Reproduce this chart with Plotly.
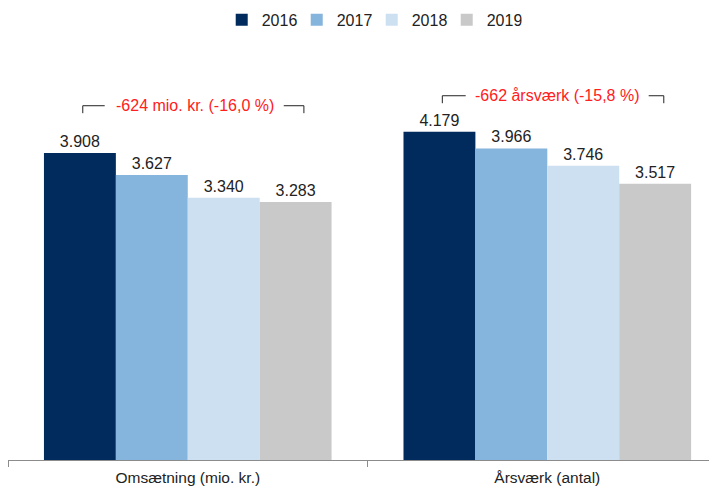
import plotly.graph_objects as go

categories = ["Omsætning (mio. kr.)", "Årsværk (antal)"]
years = ["2016", "2017", "2018", "2019"]
values_2016 = [3908, 4179]
values_2017 = [3627, 3966]
values_2018 = [3340, 3746]
values_2019 = [3283, 3517]
changes = ["-624 mio. kr. (-16,0 %)", "-662 årsværk (-15,8 %)"]

colors = ["#002B5C", "#85B4DC", "#CDE0F1", "#C9C9C9"]
font = "Arial, Liberation Sans, sans-serif"

fig = go.Figure()
for year, vals, col in zip(years, [values_2016, values_2017, values_2018, values_2019], colors):
    fig.add_trace(go.Bar(
        name=year, x=categories, y=vals, marker_color=col, marker_line_width=0,
        texttemplate="%{y:,.0f}", textposition="outside", cliponaxis=False,
        textfont=dict(size=16, color="#222222", family=font),
    ))


def bracket(i, x0, x1, gap0, gap1, y, drop):
    # horizontal line with a hole for the text, ticks going down at both ends
    line = dict(color="#222222", width=1)
    for a, b in [(x0, gap0), (gap1, x1)]:
        fig.add_shape(type="line", xref="x", yref="y", x0=i + a, x1=i + b, y0=y, y1=y, line=line)
    for a in (x0, x1):
        fig.add_shape(type="line", xref="x", yref="y", x0=i + a, x1=i + a, y0=y, y1=y - drop, line=line)


bracket(0, -0.292, 0.323, -0.231, 0.267, 4510, 95)
bracket(1, -0.292, 0.324, -0.227, 0.282, 4637, 95)
fig.add_annotation(x=0.019, y=4515, xref="x", yref="y", text=changes[0], showarrow=False,
                   font=dict(size=16, color="#FF2020", family=font))
fig.add_annotation(x=1.029, y=4642, xref="x", yref="y", text=changes[1], showarrow=False,
                   font=dict(size=16, color="#FF2020", family=font))

# page body adds an 8px offset, so the figure is a little smaller than the window
fig.update_layout(
    width=709, height=478,
    margin=dict(l=0, r=0, t=52, b=26),
    plot_bgcolor="white", paper_bgcolor="white",
    separators=",.",
    barmode="group", bargap=0.2, bargroupgap=0,
    font=dict(family=font, size=15, color="#222222"),
    legend=dict(orientation="h", xref="container", yref="container", x=0.513, y=0.975,
                xanchor="center", yanchor="middle", font=dict(size=16),
                itemwidth=30, entrywidth=30, entrywidthmode="pixels", traceorder="normal"),
    showlegend=True,
)
fig.update_xaxes(range=[-0.5, 1.472], showline=True, linecolor="#8C8C8C", linewidth=1,
                 ticks="outside", tickson="boundaries", ticklen=6, tickcolor="#8C8C8C",
                 ticklabelstandoff=3, tickfont=dict(size=15.5), showgrid=False)
fig.update_yaxes(range=[0, 5092], visible=False, showgrid=False)

fig.write_html("out.html")
